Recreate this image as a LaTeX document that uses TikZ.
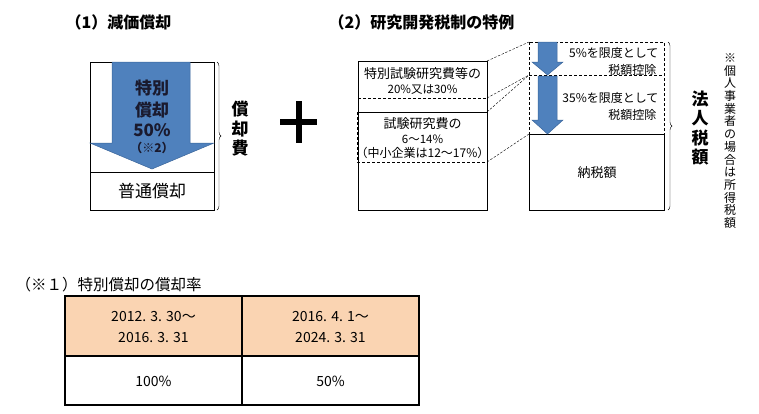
\documentclass[tikz,border=0pt]{standalone}
\usepackage{fontspec}
\setmainfont{Noto Sans CJK JP}
\usetikzlibrary{decorations.pathreplacing}

\definecolor{arrowblue}{HTML}{4F81BD}
\definecolor{arrowedge}{HTML}{3A659A}
\definecolor{headpeach}{HTML}{FAD4B2}
\definecolor{darktext}{HTML}{1A1A2E}

\newcommand{\fs}[1]{\fontsize{#1}{#1}\selectfont}

\tikzset{
	box/.style = {line width = 0.9},
	dashbox/.style = {line width = 0.8, dashed, dash pattern = on 3 off 2},
	link/.style = {thin, dashed, dash pattern = on 2.5 off 1.5},
	blockarrow/.style = {fill = arrowblue, draw = arrowedge, line width = 0.5},
	curly/.style = {thin, decorate, decoration = {brace, amplitude = 4}},
	vtext/.style = {align = center, inner sep = 0},
	ontext/.style = {text = darktext}
}

\begin{document}
\begin{tikzpicture}[x = 1pt, y = -1pt]

	\useasboundingbox (0, 0) rectangle (759, 413);

	% Titles
	
	\node [anchor = west, font = \fs{16}\bfseries] (title1) at (62, 22) {（1）減価償却};
	\node [anchor = west, font = \fs{16}\bfseries] (title2) at (325, 22) {（2）研究開発税制の特例};

	% (1) Depreciation box
	
	\coordinate (dtop) at (90, 62);
	\coordinate (dbot) at (214, 210);
	\draw [box] (dtop) rectangle (dbot);
	\filldraw [blockarrow] (112, 62) -- (190, 62) -- (190, 143) -- (214, 143)
		-- (152, 169) -- (90, 143) -- (112, 143) -- cycle;
	\draw [box] (90, 172) -- (214, 172);
	
	\node [ontext, font = \fs{17}\bfseries] (sp1) at (152, 88) {特別};
	\node [ontext, font = \fs{17}\bfseries] (sp2) at (152, 110) {償却};
	\node [ontext, font = \fs{17}\bfseries] (sp3) at (152, 130) {50\%};
	\node [ontext, font = \fs{12}\bfseries] (sp4) at (152, 148) {（※2）};
	\node [font = \fs{17}] (normal) at (152, 191) {普通償却};
	
	\coordinate (br1a) at (217, 62);
	\coordinate (br1b) at (217, 210);
	\draw [curly] (br1a) -- (br1b);
	\node [vtext, font = \fontsize{17}{19.5}\selectfont\bfseries] (cost) at (240, 129) {償\\却\\費};

	% Plus
	
	\draw [line width = 6] (280, 122) -- (317, 122);
	\draw [line width = 6] (298.5, 101) -- (298.5, 143);

	% (2) R&D tax credit, left box
	
	\coordinate (la) at (358, 61);
	\coordinate (lb) at (487, 210);
	\coordinate (l98) at (487, 98);
	\coordinate (l112) at (487, 112);
	\coordinate (l162) at (487, 162);
	\draw [box] (la) rectangle (lb);
	\draw [dashbox] (358, 98) -- (l98);
	\draw [box] (358, 112) -- (l112);
	\draw [dashbox] (357, 112) -- (357, 162) -- (l162) -- (487, 112);
	
	\node [font = \fs{13}] (rd1) at (422.5, 74) {特別試験研究費等の};
	\node [font = \fs{11.5}] (rd2) at (422.5, 90) {20\%又は30\%};
	\node [font = \fs{13}] (rd3) at (422.5, 124) {試験研究費の};
	\node [font = \fs{11.5}] (rd4) at (422.5, 139) {6～14\%};
	\node [font = \fs{12}] (rd5) at (422.5, 153) {（中小企業は12～17\%）};

	% Right box
	
	\coordinate (ra) at (529, 42);
	\coordinate (r75) at (529, 75);
	\coordinate (r134) at (529, 134);
	\coordinate (rb) at (664, 210);
	\draw [dashbox] (ra) rectangle (664, 134);
	\draw [dashbox] (r75) -- (664, 75);
	\draw [box] (r134) rectangle (rb);
	
	\filldraw [blockarrow] (538, 42) -- (557, 42) -- (557, 62) -- (563, 62)
		-- (547.5, 75) -- (532, 62) -- (538, 62) -- cycle;
	\filldraw [blockarrow] (538, 76) -- (557, 76) -- (557, 120) -- (563, 120)
		-- (547.5, 134) -- (532, 120) -- (538, 120) -- cycle;
	
	\node [anchor = east, font = \fs{12}] (lim1) at (662, 53) {5\%を限度として};
	\node [anchor = east, font = \fs{12}] (ded1) at (660, 70) {税額控除};
	\node [anchor = east, font = \fs{12}] (lim2) at (662, 98) {35\%を限度として};
	\node [anchor = east, font = \fs{12}] (ded2) at (660, 115) {税額控除};
	\node [font = \fs{13}] (paid) at (597, 173) {納税額};

	% Dashed links
	
	\draw [link] (la -| lb) -- (ra);
	\draw [link] (l98) -- (r75);
	\draw [link] (l112) -- (r75);
	\draw [link] (l162) -- (r134);
	
	\coordinate (br2a) at (668, 42);
	\coordinate (br2b) at (668, 210);
	\draw [curly] (br2a) -- (br2b);
	\node [vtext, font = \fontsize{17}{19.5}\selectfont\bfseries] (corp) at (700, 128) {法\\人\\税\\額};
	\node [vtext, font = \fontsize{12}{12.7}\selectfont] (note) at (730, 141)
		{※\\個\\人\\事\\業\\者\\の\\場\\合\\は\\所\\得\\税\\額};

	% (※1) Table
	
	\node [anchor = west, font = \fs{15.5}] (title3) at (12, 285) {（※１）特別償却の償却率};
	
	\coordinate (ta) at (65, 296);
	\coordinate (tb) at (419, 405);
	\fill [headpeach] (ta) rectangle (419, 356);
	\draw [line width = 1.1] (ta) rectangle (tb);
	\draw [line width = 1.1] (65, 356) -- (419, 356);
	\draw [line width = 1.1] (242, 296) -- (242, 405);
	
	\node [font = \fs{14}] (p1a) at (153.5, 317) {2012. 3. 30～};
	\node [font = \fs{14}] (p1b) at (153.5, 337) {2016. 3. 31};
	\node [font = \fs{14}] (p2a) at (330.5, 317) {2016. 4. 1～};
	\node [font = \fs{14}] (p2b) at (330.5, 337) {2024. 3. 31};
	\node [font = \fs{14}] (r1) at (153.5, 381) {100\%};
	\node [font = \fs{14}] (r2) at (330.5, 381) {50\%};
	
\end{tikzpicture}
\end{document}
